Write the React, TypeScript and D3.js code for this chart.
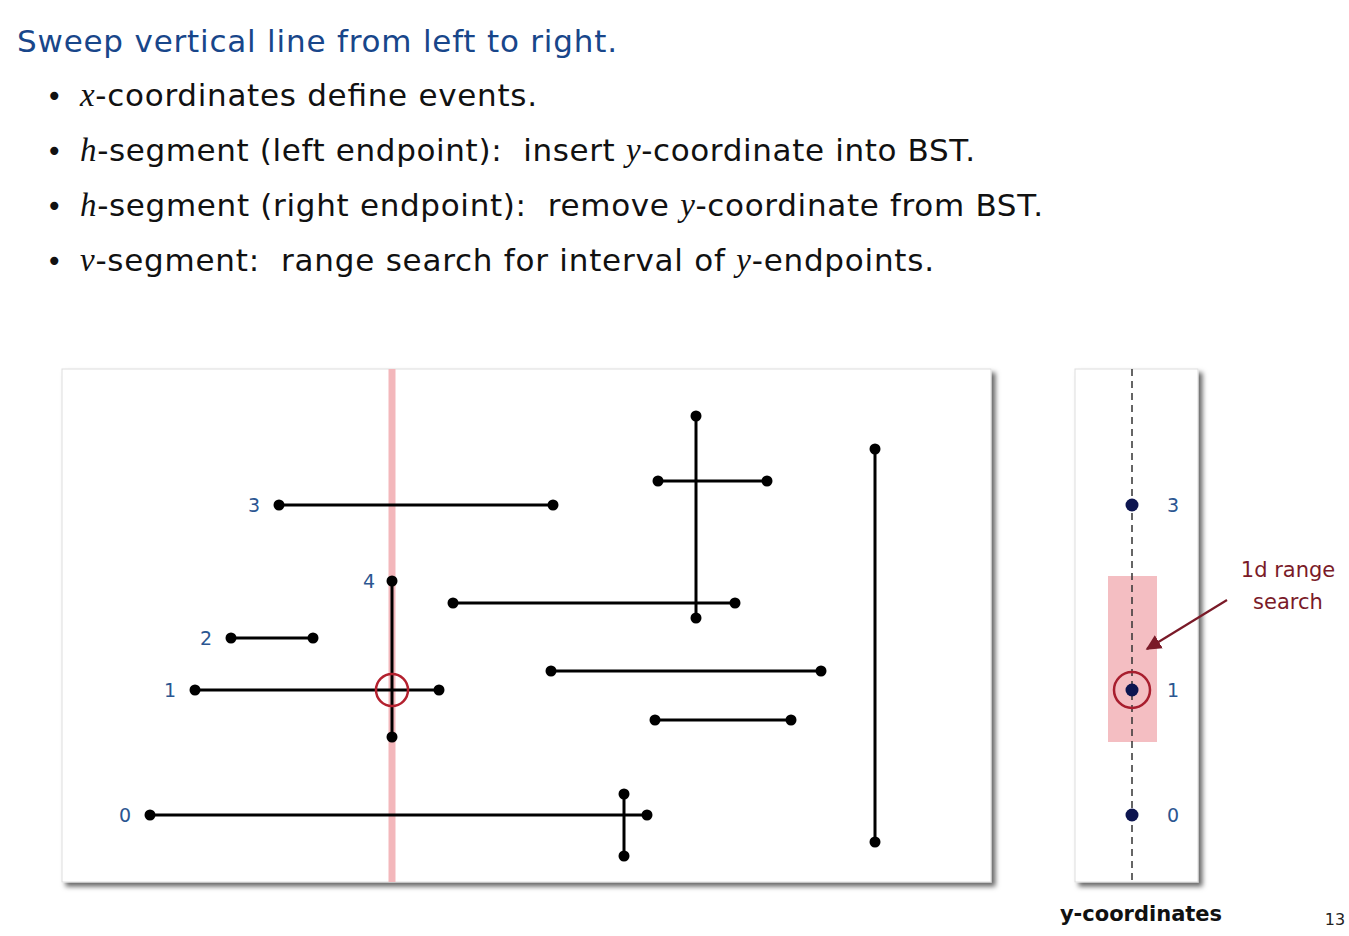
import React from 'react';
import * as d3 from 'd3';

// slide text
const title = "Sweep vertical line from left to right.";
const bullets: { em: string; rest: string[] }[] = [
  { em: "x", rest: ["-coordinates define events."] },
  { em: "h", rest: ["-segment (left endpoint):  insert ", "y", "-coordinate into BST."] },
  { em: "h", rest: ["-segment (right endpoint):  remove ", "y", "-coordinate from BST."] },
  { em: "v", rest: ["-segment:  range search for interval of ", "y", "-endpoints."] },
];
// rendered widths of the text lines, in px
const titleWidth = 600;
const bulletWidths = [457, 895, 963, 854];

// geometry of the segments, in panel units (x right, y up)
const hSegments = [
  { label: "0", y: 67, x1: 88, x2: 585 },
  { label: "1", y: 192, x1: 133, x2: 377 },
  { label: "2", y: 244, x1: 169, x2: 251 },
  { label: "3", y: 377, x1: 217, x2: 491 },
  { label: "", y: 279, x1: 391, x2: 673 },
  { label: "", y: 401, x1: 596, x2: 705 },
  { label: "", y: 211, x1: 489, x2: 759 },
  { label: "", y: 162, x1: 593, x2: 729 },
];
const vSegments = [
  { label: "4", x: 330, y1: 145, y2: 301 },
  { label: "", x: 562, y1: 26, y2: 88 },
  { label: "", x: 634, y1: 264, y2: 466 },
  { label: "", x: 813, y1: 40, y2: 433 },
];
const sweepX = 330;
const xDomain = [0, 929];
const yDomain = [0, 513];

const App: React.FC = () => {
  const x = d3.scaleLinear().domain(xDomain).range([62, 991]);
  const y = d3.scaleLinear().domain(yDomain).range([882, 369]);

  // h-segments the sweep line currently crosses live in the BST
  const active = hSegments.filter(s => s.label !== "" && s.x1 < sweepX && s.x2 > sweepX);
  const query = vSegments.find(v => v.x === sweepX)!;
  const hits = active.filter(s => s.y >= query.y1 && s.y <= query.y2);

  const bstX = 1132;
  const sans = "'DejaVu Sans', sans-serif";
  const serif = "'Liberation Serif', serif";
  const blue = "#2b5691";
  const red = "#7a1a28";
  const pink = "#f3b7bb";

  return (
    <svg width={1349} height={936} style={{ position: 'absolute', left: 0, top: 0, background: '#fff' }}>
      <defs>
        <filter id="shadow" x="-5%" y="-5%" width="115%" height="115%">
          <feDropShadow dx="4" dy="4" stdDeviation="2.5" floodColor="#000" floodOpacity="0.6" />
        </filter>
        <marker id="arrow" viewBox="0 0 10 10" refX="9" refY="5" markerWidth="7" markerHeight="7" orient="auto">
          <path d="M0,0 L10,5 L0,10 z" fill={red} />
        </marker>
      </defs>

      <text x={17} y={52} fontFamily={sans} fontSize={31} fill="#18468a" textLength={titleWidth} lengthAdjust="spacing">{title}</text>
      {bullets.map((b, i) => (
        <g key={i}>
          <text x={46} y={106 + i * 55} fontFamily={sans} fontSize={28} fill="#111">•</text>
          <text x={80} y={106 + i * 55} fontFamily={sans} fontSize={31} fill="#111" style={{ whiteSpace: 'pre' }}
            textLength={bulletWidths[i]} lengthAdjust="spacing">
            <tspan fontFamily={serif} fontStyle="italic" fontSize={33}>{b.em}</tspan>
            {b.rest.map((r, j) =>
              r === "y"
                ? <tspan key={j} fontFamily={serif} fontStyle="italic" fontSize={33}>{r}</tspan>
                : <tspan key={j}>{r}</tspan>)}
          </text>
        </g>
      ))}

      {/* main panel */}
      <rect x={x(0)} y={y(513)} width={x(929) - x(0)} height={y(0) - y(513)} fill="#fff" stroke="#ddd" filter="url(#shadow)" />
      <line x1={x(sweepX)} x2={x(sweepX)} y1={y(513)} y2={y(0)} stroke={pink} strokeWidth={7} />

      {hSegments.map((s, i) => (
        <g key={'h' + i}>
          <line x1={x(s.x1)} x2={x(s.x2)} y1={y(s.y)} y2={y(s.y)} stroke="#000" strokeWidth={3} />
          <circle cx={x(s.x1)} cy={y(s.y)} r={5.5} fill="#000" />
          <circle cx={x(s.x2)} cy={y(s.y)} r={5.5} fill="#000" />
          {s.label && (
            <text x={x(s.x1) - 19} y={y(s.y) + 7} fontFamily={sans} fontSize={19} fill={blue} textAnchor="end">{s.label}</text>
          )}
        </g>
      ))}
      {vSegments.map((s, i) => (
        <g key={'v' + i}>
          <line x1={x(s.x)} x2={x(s.x)} y1={y(s.y1)} y2={y(s.y2)} stroke="#000" strokeWidth={3} />
          <circle cx={x(s.x)} cy={y(s.y1)} r={5.5} fill="#000" />
          <circle cx={x(s.x)} cy={y(s.y2)} r={5.5} fill="#000" />
          {s.label && (
            <text x={x(s.x) - 17} y={y(s.y2) + 7} fontFamily={sans} fontSize={19} fill={blue} textAnchor="end">{s.label}</text>
          )}
        </g>
      ))}
      {hits.map((s, i) => (
        <circle key={'hit' + i} cx={x(sweepX)} cy={y(s.y)} r={16} fill="none" stroke="#b3202e" strokeWidth={2.5} />
      ))}

      {/* BST y-coordinates panel */}
      <rect x={1075} y={y(513)} width={123} height={y(0) - y(513)} fill="#fff" stroke="#ddd" filter="url(#shadow)" />
      <rect x={bstX - 24} y={y(query.y2 + 5)} width={49} height={y(query.y1 - 5) - y(query.y2 + 5)} fill={pink} opacity={0.9} />
      <line x1={bstX} x2={bstX} y1={y(513)} y2={y(0)} stroke="#333" strokeWidth={1.5} strokeDasharray="7,5" />
      {active.map((s, i) => (
        <g key={'a' + i}>
          <circle cx={bstX} cy={y(s.y)} r={6.5} fill="#0d1550" />
          <text x={1173} y={y(s.y) + 7} fontFamily={sans} fontSize={19} fill={blue} textAnchor="middle">{s.label}</text>
        </g>
      ))}
      {hits.map((s, i) => (
        <circle key={'bh' + i} cx={bstX} cy={y(s.y)} r={18} fill="none" stroke="#a81e2e" strokeWidth={2.5} />
      ))}

      <line x1={1227} y1={600} x2={1147} y2={649} stroke={red} strokeWidth={2.2} markerEnd="url(#arrow)" />
      <text x={1288} y={577} fontFamily={sans} fontSize={21} fill={red} textAnchor="middle">1d range</text>
      <text x={1288} y={609} fontFamily={sans} fontSize={21} fill={red} textAnchor="middle">search</text>

      <text x={1141} y={921} fontFamily={sans} fontSize={21} fontWeight="bold" fill="#111" textAnchor="middle">y-coordinates</text>
      <text x={1335} y={925} fontFamily={sans} fontSize={16} fill="#222" textAnchor="middle">13</text>
    </svg>
  );
};

export default App;
